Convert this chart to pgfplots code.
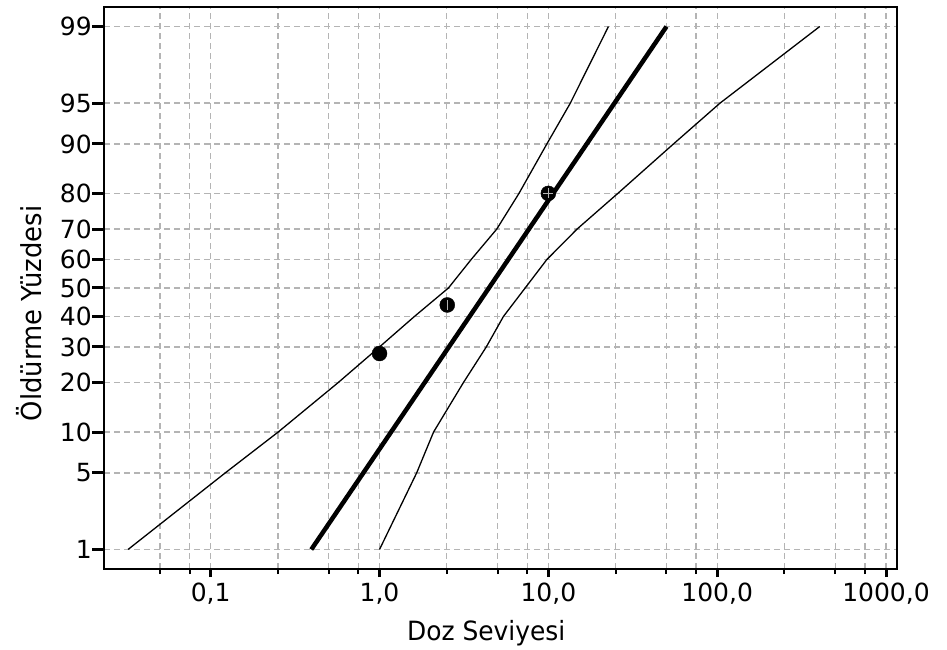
\documentclass[border=0pt]{standalone}
\usepackage{pgfplots}
\pgfplotsset{compat=1.18}
\usepackage{fontspec}
\setmainfont{DejaVu Sans}
\newfontfamily\condfont[FakeStretch=0.94]{DejaVu Sans}
\definecolor{gridgray}{RGB}{180,180,180}
\begin{document}
\begin{tikzpicture}
\begin{axis}[
  at={(0,0)}, anchor=south west,
  scale only axis, width=793pt, height=562pt,
  xmode=log, log basis x=10,
  xmin=0.02334, xmax=1162,
  ymin=-2.5, ymax=2.5,
  axis line style={line width=2.4pt},
  xtick={0.1,1,10,100,1000},
  xticklabels={{0,1},{1,0},{10,0},{100,0},{1000,0}},
  minor xtick={0.05,0.075,0.25,0.5,0.75,2.5,5,7.5,25,50,75,250,500,750},
  ytick={-2.3263,-1.6449,-1.2816,-0.8416,-0.5244,-0.2533,0,0.2533,0.5244,0.8416,1.2816,1.6449,2.3263},
  yticklabels={1,5,10,20,30,40,50,60,70,80,90,95,99},
  tick align=outside, xtick pos=bottom, ytick pos=left,
  major tick length=12pt, minor tick length=5pt,
  tick style={line width=3pt, black},
  minor tick style={line width=2pt, black},
  xtick style={/pgfplots/major tick length=8pt},
  xmajorgrids, xminorgrids, ymajorgrids,
  major grid style={dash pattern=on 6pt off 4pt, color=gridgray, line width=1.3pt},
  minor grid style={dash pattern=on 6pt off 4pt, color=gridgray, line width=1.3pt},
  ticklabel style={font=\fontsize{25}{30}\selectfont},
  xticklabel style={anchor=base, yshift=-20pt},
  yticklabel style={anchor=east, inner sep=0pt},
  xlabel={Doz Seviyesi}, ylabel={Öldürme Yüzdesi},
  every axis x label/.style={at={(axis description cs:0.482,-0.128)}, anchor=base, font=\condfont\fontsize{26.5}{31}\selectfont},
  every axis y label/.style={at={(axis description cs:-0.0946,0.455)}, rotate=90, anchor=center, font=\condfont\fontsize{27.5}{32}\selectfont},
  clip=false,
]
% fitted probit line
\addplot[black, line width=4.5pt, line cap=butt] coordinates {(0.3945,-2.3263) (50.1,2.3263)};
% upper confidence limit (left curve)
\addplot[black, line width=1.3pt] coordinates {
(0.0324,-2.3263) (0.122,-1.6449) (0.251,-1.2816) (0.569,-0.8416)
(1.0,-0.5244) (1.61,-0.2533) (2.56,0) (3.49,0.2533) (4.95,0.5244) (6.70,0.8416)
(9.80,1.2816) (13.5,1.6449) (22.7,2.3263)};
% lower confidence limit (right curve)
\addplot[black, line width=1.3pt] coordinates {
(1.0,-2.3263) (1.66,-1.6449) (2.09,-1.2816) (3.14,-0.8416) (4.29,-0.5244)
(5.42,-0.2533) (7.29,0) (9.80,0.2533) (14.8,0.5244) (25.8,0.8416)
(55.1,1.2816) (104,1.6449) (405,2.3263)};
% observed points
\addplot[only marks, mark=*, mark size=7.5pt, black] coordinates {(1.0,-0.5828) (2.52,-0.1510) (10,0.8416)};
\addplot[only marks, mark=+, mark size=5pt, gridgray, line width=1.3pt] coordinates {(10,0.8416)};
\addplot[only marks, mark=|, mark size=5pt, gridgray, line width=1.3pt] coordinates {(2.52,-0.1510)};
\end{axis}
\pgfresetboundingbox
\path[use as bounding box] (-104pt,-81pt) rectangle (843pt,569pt);
\end{tikzpicture}
\end{document}
